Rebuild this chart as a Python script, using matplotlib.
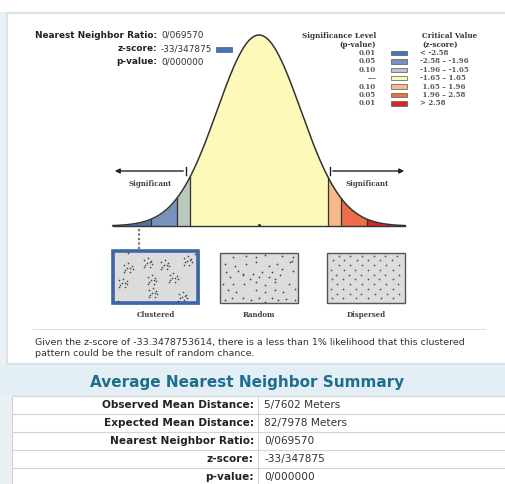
import numpy as np
import matplotlib
matplotlib.use('Agg')
import matplotlib.pyplot as plt
from matplotlib.patches import Rectangle

W, H = 506, 484

# z-score classes of the bell curve
z_bounds = [-3.5, -2.58, -1.96, -1.65, 1.65, 1.96, 2.58, 3.5]
bin_colors = ['#4a74b0', '#7893bb', '#b9c9bc', '#fdfab9', '#f6b98a', '#ec6d47', '#d3292a']
p_levels = ['0.01', '0.05', '0.10', '---', '0.10', '0.05', '0.01']
crit_labels = ['< -2.58', '-2.58 – -1.96', '-1.96 – -1.65', '-1.65 – 1.65',
               ' 1.65 – 1.96', ' 1.96 – 2.58', '> 2.58']

# results
stat_labels = ['Nearest Neighbor Ratio:', 'z-score:', 'p-value:']
stat_values = ['0/069570', '-33/347875', '0/000000']
table_labels = ['Observed Mean Distance:', 'Expected Mean Distance:',
                'Nearest Neighbor Ratio:', 'z-score:', 'p-value:']
table_values = ['5/7602 Meters', '82/7978 Meters', '0/069570', '-33/347875', '0/000000']
z_score_full = '-33.3478753614'
pattern_names = ['Clustered', 'Random', 'Dispersed']

# icon point patterns (fractions of each box, y from top)
cluster_centers = [(0.18, 0.33), (0.41, 0.23), (0.61, 0.27), (0.88, 0.19), (0.12, 0.62),
                   (0.46, 0.56), (0.71, 0.52), (0.47, 0.81), (0.82, 0.88)]
cluster_offsets = [(-0.045, -0.06), (0.0, -0.09), (0.04, -0.04), (-0.035, 0.03),
                   (0.02, 0.07), (0.05, 0.02), (-0.01, 0.0), (-0.05, 0.08), (0.025, -0.01)]
cluster_singles = [(0.18, 0.04), (0.06, 0.96), (0.96, 0.05)]
random_pts = [(0.17, 0.08), (0.33, 0.05), (0.46, 0.07), (0.58, 0.04), (0.79, 0.05), (0.94, 0.08),
              (0.90, 0.18), (0.06, 0.22), (0.19, 0.25), (0.33, 0.22), (0.46, 0.18), (0.63, 0.25),
              (0.73, 0.22), (0.92, 0.15), (0.08, 0.38), (0.23, 0.35), (0.29, 0.41), (0.42, 0.41),
              (0.54, 0.38), (0.67, 0.38), (0.79, 0.31), (0.94, 0.35), (0.13, 0.48), (0.29, 0.44),
              (0.38, 0.51), (0.50, 0.48), (0.63, 0.48), (0.71, 0.51), (0.77, 0.44), (0.04, 0.61),
              (0.17, 0.61), (0.31, 0.61), (0.46, 0.58), (0.58, 0.64), (0.71, 0.58), (0.88, 0.61),
              (0.10, 0.74), (0.21, 0.77), (0.46, 0.74), (0.58, 0.77), (0.71, 0.74), (0.81, 0.77),
              (0.96, 0.71), (0.06, 0.93), (0.15, 0.90), (0.29, 0.90), (0.40, 0.93), (0.50, 0.90),
              (0.58, 0.97), (0.67, 0.89), (0.75, 0.93), (0.85, 0.92), (0.96, 0.93)]
dispersed_rows = [(0.05, [0.15, 0.30, 0.45, 0.60, 0.75, 0.90]),
                  (0.14, [0.08, 0.22, 0.38, 0.52, 0.68, 0.83]),
                  (0.24, [0.15, 0.30, 0.45, 0.60, 0.76, 0.92]),
                  (0.33, [0.05, 0.22, 0.36, 0.53, 0.68, 0.84]),
                  (0.43, [0.12, 0.28, 0.44, 0.60, 0.75, 0.92]),
                  (0.52, [0.06, 0.20, 0.36, 0.52, 0.67, 0.84]),
                  (0.62, [0.13, 0.29, 0.45, 0.60, 0.76, 0.91]),
                  (0.71, [0.05, 0.21, 0.37, 0.53, 0.68, 0.85]),
                  (0.81, [0.13, 0.29, 0.44, 0.61, 0.77, 0.92]),
                  (0.90, [0.06, 0.21, 0.37, 0.52, 0.69, 0.84])]

SANS = 'DejaVu Sans'
SLAB = 'DejaVu Serif'
DARK = '#222222'

fig = plt.figure(figsize=(W / 100, H / 100), dpi=100)
fig.patch.set_facecolor('#e9f1f4')
ax = fig.add_axes([0, 0, 1, 1])
ax.set_xlim(0, W)
ax.set_ylim(H, 0)
ax.axis('off')

# page background / panels
ax.add_patch(Rectangle((0, 0), W, 12, fc='white', ec='none'))
ax.add_patch(Rectangle((7, 13), W, 351, fc='white', ec='#d6e3e8', lw=1.5))
ax.add_patch(Rectangle((0, 365), W, 31, fc='#e3eff4', ec='none'))
ax.add_patch(Rectangle((12, 396), W, 90, fc='white', ec='#d4d4d4', lw=0.8))
for i in range(1, len(table_labels)):
    ax.plot([12, W], [396 + 18 * i, 396 + 18 * i], color='#d4d4d4', lw=0.8)
ax.plot([258, 258], [396, H], color='#d4d4d4', lw=0.8)

# stats block top-left
for i, (lab, val) in enumerate(zip(stat_labels, stat_values)):
    y = 35 + 13.5 * i
    ax.text(157, y, lab, ha='right', va='center', fontsize=6.4, fontweight='bold',
            family=SANS, color=DARK)
    ax.text(161, y, val, ha='left', va='center', fontsize=6.4, family=SANS, color='#333')
ax.add_patch(Rectangle((216, 47), 16, 4.5, fc=bin_colors[0], ec='#3b5f93', lw=0.5))

# legend
ax.text(376, 36, 'Significance Level', ha='right', va='center', fontsize=5.2,
        fontweight='bold', family=SLAB, color='#333')
ax.text(376, 45, '(p-value)', ha='right', va='center', fontsize=5.2,
        fontweight='bold', family=SLAB, color='#333')
ax.text(422, 36, 'Critical Value', ha='left', va='center', fontsize=5.2,
        fontweight='bold', family=SLAB, color='#333')
ax.text(422, 45, '(z-score)', ha='left', va='center', fontsize=5.2,
        fontweight='bold', family=SLAB, color='#333')
for i, (p, c, lab) in enumerate(zip(p_levels, bin_colors, crit_labels)):
    y = 53 + 8.4 * i
    ax.text(376, y, p, ha='right', va='center', fontsize=5.0, fontweight='bold',
            family=SLAB, color='#555')
    ax.add_patch(Rectangle((391, y - 2.3), 16, 4.6, fc=c, ec='#555', lw=0.5))
    ax.text(420, y, lab, ha='left', va='center', fontsize=5.0, fontweight='bold',
            family=SLAB, color='#555')

# bell curve in its own z-score axes
px_per_z, cx, base_y, peak_y = 41.8, 259, 226, 35
z = np.linspace(z_bounds[0], z_bounds[-1], 800)
pdf = np.exp(-z ** 2 / 2) / np.sqrt(2 * np.pi)
pk = 1 / np.sqrt(2 * np.pi)
cax = fig.add_axes([(cx + z_bounds[0] * px_per_z) / W, (H - base_y) / H,
                    (z_bounds[-1] - z_bounds[0]) * px_per_z / W, (base_y - peak_y) / H])
cax.set_xlim(z_bounds[0], z_bounds[-1])
cax.set_ylim(0, pk)
cax.axis('off')
cax.patch.set_alpha(0)
for lo, hi, c in zip(z_bounds[:-1], z_bounds[1:], bin_colors):
    m = (z >= lo) & (z <= hi)
    cax.fill_between(z[m], 0, pdf[m], color=c, lw=0)
for b in z_bounds[1:-1]:
    cax.plot([b, b], [0, np.exp(-b ** 2 / 2) / np.sqrt(2 * np.pi)], color='#333', lw=0.9)
cax.plot(z, pdf, color='#333', lw=1.1, clip_on=False)
cax.plot([z_bounds[0], z_bounds[-1]], [0, 0], color='#333', lw=1.0, clip_on=False)
cax.plot([0], [0.002], marker='o', ms=1.2, color='#333')

# arrows and labels
ax.annotate('', xy=(112, 171), xytext=(186, 171),
            arrowprops=dict(arrowstyle='-|>', color='#222', lw=1.0, mutation_scale=7))
ax.plot([186, 186], [167, 175], color='#222', lw=1.0)
ax.annotate('', xy=(407, 171), xytext=(330, 171),
            arrowprops=dict(arrowstyle='-|>', color='#222', lw=1.0, mutation_scale=7))
ax.plot([330, 330], [167, 175], color='#222', lw=1.0)
ax.text(150, 184, 'Significant', ha='center', va='center', fontsize=5.0,
        fontweight='bold', family=SLAB, color='#444')
ax.text(367, 184, 'Significant', ha='center', va='center', fontsize=5.0,
        fontweight='bold', family=SLAB, color='#444')
ax.text(259, 173, '(Random)', ha='center', va='center', fontsize=5.0,
        fontweight='bold', family=SLAB, color='#444')

# pointer from curve to the matching pattern
ax.plot([139, 139], [229, 250], color='#777', lw=1.6, linestyle=(0, (1, 1)))

# pattern boxes
boxes = [(113, 251, 85, 52), (220, 253, 78, 50), (327, 253, 78, 50)]
ax.add_patch(Rectangle((115, 253), 85, 52, fc='#b8c3d3', ec='none'))
for k, (bx, by, bw, bh) in enumerate(boxes):
    if k == 0:
        ax.add_patch(Rectangle((bx, by), bw, bh, fc='#dcdcdc', ec='#3d66a6', lw=2.6))
    else:
        ax.add_patch(Rectangle((bx, by), bw, bh, fc='#dcdcdc', ec='#555', lw=1.0))
    ax.text(bx + bw / 2, 315, pattern_names[k], ha='center', va='center', fontsize=5.0,
            fontweight='bold', family=SLAB, color='#444')

bx, by, bw, bh = boxes[0]
cl = [(cx0 + dx, cy0 + dy) for cx0, cy0 in cluster_centers for dx, dy in cluster_offsets]
cl += cluster_singles
ax.scatter([bx + p[0] * bw for p in cl], [by + p[1] * bh for p in cl], s=1.4, color='#444', lw=0)
bx, by, bw, bh = boxes[1]
ax.scatter([bx + p[0] * bw for p in random_pts], [by + p[1] * bh for p in random_pts],
           s=1.6, color='#444', lw=0)
bx, by, bw, bh = boxes[2]
dx_ = [bx + fx * bw for fy, row in dispersed_rows for fx in row]
dy_ = [by + fy * bh for fy, row in dispersed_rows for fx in row]
ax.scatter(dx_, dy_, s=1.6, color='#555', lw=0)

# separator and interpretation text
ax.plot([33, 485], [329, 329], color='#e0e0e0', lw=0.8)
ax.text(35, 343, 'Given the z-score of ' + z_score_full + ', there is a less than 1% '
        'likelihood that this clustered', ha='left', va='center', fontsize=6.8,
        family=SANS, color='#333')
ax.text(35, 354, 'pattern could be the result of random chance.', ha='left', va='center',
        fontsize=6.8, family=SANS, color='#333')

# summary table
ax.text(247, 383, 'Average Nearest Neighbor Summary', ha='center', va='center',
        fontsize=11, fontweight='bold', family=SANS, color='#1f6e90')
for i, (lab, val) in enumerate(zip(table_labels, table_values)):
    y = 405 + 18 * i
    ax.text(254, y, lab, ha='right', va='center', fontsize=7.6, fontweight='bold',
            family=SANS, color=DARK)
    ax.text(264, y, val, ha='left', va='center', fontsize=7.6, family=SANS, color='#333')

fig.savefig('out.png', dpi=100, facecolor=fig.get_facecolor())
